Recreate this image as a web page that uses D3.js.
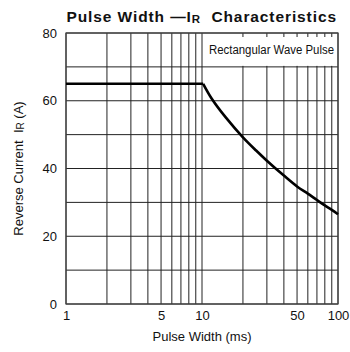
<!DOCTYPE html>
<html><head><meta charset="utf-8">
<script src="https://cdn.jsdelivr.net/npm/d3@7"></script>
<style>body{margin:0;background:#fff}svg{display:block}text{font-family:"Liberation Sans",Arial,sans-serif;fill:#111}</style>
</head><body><svg id="c" width="350" height="352"></svg>
<script>
const xDomain = [1, 100];
const yDomain = [0, 80];
const xGridValues = [1,2,3,4,5,6,7,8,9,10,20,30,40,50,60,70,80,90,100];
const xTickLabels = [1,5,10,50,100];
const yGridValues = [0,10,20,30,40,50,60,70,80];
const yTickLabels = [0,20,40,60,80];
// curve: pulse width (ms), reverse current (A)
const flatWidth = [1, 10.2];
const flatCurrent = [65, 65];
const decayWidth = [10.2, 11.8, 15, 20, 25, 30, 40, 50, 60, 70, 80, 90, 100];
const decayCurrent = [65, 60.6, 55.0, 49.2, 45.3, 42.3, 37.9, 34.7, 32.6, 30.7, 29.1, 27.8, 26.5];

const W = 350, H = 352, m = {l:66, r:12, t:33, b:48};
const svg = d3.select("#c");
const x = d3.scaleLog().domain(xDomain).range([m.l, W - m.r]);
const y = d3.scaleLinear().domain(yDomain).range([H - m.b, m.t]);

const g = svg.append("g");
// grid
g.selectAll(".vg").data(xGridValues).join("line")
  .attr("x1", d => x(d)).attr("x2", d => x(d))
  .attr("y1", y(0)).attr("y2", y(80))
  .attr("stroke", "#222").attr("stroke-width", 1);
g.selectAll(".hg").data(yGridValues).join("line")
  .attr("x1", x(1)).attr("x2", x(100))
  .attr("y1", d => y(d)).attr("y2", d => y(d))
  .attr("stroke", "#222").attr("stroke-width", 1);
// label box
g.append("rect").attr("x", x(10) + 1).attr("y", y(80) + 4)
  .attr("width", x(100) - x(10) - 2).attr("height", y(70) - y(80) - 5)
  .attr("fill", "#fff");
g.append("text").attr("x", x(100) - 4).attr("y", y(75) + 4)
  .attr("text-anchor", "end").attr("font-size", 12.5)
  .attr("textLength", 125).attr("lengthAdjust", "spacingAndGlyphs").text("Rectangular Wave Pulse");
// frame
g.append("rect").attr("x", x(1)).attr("y", y(80)).attr("width", x(100) - x(1)).attr("height", y(0) - y(80))
  .attr("fill", "none").attr("stroke", "#444").attr("stroke-width", 1.2);

// curve
const flat = flatWidth.map((w, i) => [w, flatCurrent[i]]);
const decay = decayWidth.map((w, i) => [w, decayCurrent[i]]);
g.append("path").attr("d", d3.line().x(d => x(d[0])).y(d => y(d[1]))(flat))
  .attr("fill", "none").attr("stroke", "#000").attr("stroke-width", 2.6);
g.append("path").attr("d", d3.line().x(d => x(d[0])).y(d => y(d[1])).curve(d3.curveCatmullRom.alpha(0.5))(decay))
  .attr("fill", "none").attr("stroke", "#000").attr("stroke-width", 2.6).attr("stroke-linejoin", "round");

// axes labels
const xa = d3.axisBottom(x).tickValues(xTickLabels).tickFormat(d3.format("d")).tickSize(0).tickPadding(7);
const xg = svg.append("g").attr("transform", `translate(0,${y(0)})`).call(xa);
const ya = d3.axisLeft(y).tickValues(yTickLabels).tickSize(0).tickPadding(9);
const yg = svg.append("g").attr("transform", `translate(${x(1)},0)`).call(ya);
[xg, yg].forEach(a => { a.select(".domain").remove(); a.selectAll("text").attr("font-size", 13).attr("font-family", null); });

// titles
const t = svg.append("text").attr("x", 66.5).attr("y", 22).attr("text-anchor", "start")
  .attr("font-size", 15.5).attr("font-weight", "bold").attr("letter-spacing", 0.9);
t.append("tspan").text("Pulse Width —I");
t.append("tspan").attr("font-size", 11.5).attr("dy", 1).text("R");
t.append("tspan").attr("dy", -1).text("  Characteristics").attr("xml:space", "preserve");

svg.append("text").attr("x", 202).attr("y", 341).attr("text-anchor", "middle").attr("font-size", 13).text("Pulse Width (ms)");
const yl = svg.append("text").attr("transform", `translate(23,${(y(0) + y(80)) / 2}) rotate(-90)`)
  .attr("text-anchor", "middle").attr("font-size", 13);
yl.append("tspan").text("Reverse Current  I").attr("xml:space", "preserve");
yl.append("tspan").attr("font-size", 10).attr("dy", 1).text("R");
yl.append("tspan").attr("dy", -1).text(" (A)");
</script></body></html>
